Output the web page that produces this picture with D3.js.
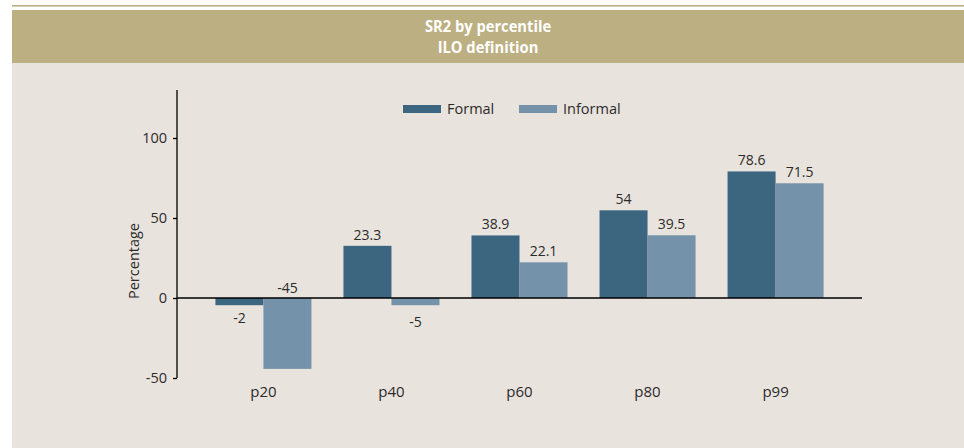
<!DOCTYPE html>
<html>
<head>
<meta charset="utf-8">
<script src="https://cdn.jsdelivr.net/npm/d3@7"></script>
<style>
  html, body { margin: 0; padding: 0; background: #ffffff; }
  svg { display: block; font-family: 'Open Sans', 'Noto Sans', sans-serif; }
</style>
</head>
<body>
<div id="chart"></div>
<script>
const categories = ['p20', 'p40', 'p60', 'p80', 'p99'];
const seriesNames = ['Formal', 'Informal'];
// bar heights as drawn in the picture
const formalValues = [-4.5, 32.6, 39.1, 54.8, 79.1];
const informalValues = [-44.3, -4.5, 22.3, 39.2, 71.7];
// printed labels
const formalLabels = ['-2', '23.3', '38.9', '54', '78.6'];
const informalLabels = ['-45', '-5', '22.1', '39.5', '71.5'];
const yTicks = [-50, 0, 50, 100];
const titleLines = ['SR2 by percentile', 'ILO definition'];

const colors = { Formal: '#3c6680', Informal: '#7492aa' };
const textColor = '#2b2b2b';

const width = 964, height = 448;

const svg = d3.select('#chart')
  .append('svg')
  .attr('width', width)
  .attr('height', height);

// background panels
svg.append('rect')
  .attr('x', 12).attr('y', 63)
  .attr('width', width - 12).attr('height', height - 63)
  .attr('fill', '#e9e3dd');

svg.append('rect')
  .attr('x', 12).attr('y', 10)
  .attr('width', width - 12).attr('height', 53)
  .attr('fill', '#bcaf82');

svg.append('rect')
  .attr('x', 12).attr('y', 5)
  .attr('width', width - 12).attr('height', 1.6)
  .attr('fill', '#bcaf82');

// title (condensed look), one text with two lines
const title = svg.append('g')
  .attr('transform', 'translate(488,0) scale(0.92,1)')
  .append('text')
  .attr('text-anchor', 'middle')
  .attr('fill', '#ffffff')
  .attr('font-weight', 'bold')
  .attr('font-size', 16);
title.selectAll('tspan')
  .data(titleLines)
  .join('tspan')
  .attr('x', 0)
  .attr('y', (d, i) => 32 + i * 21)
  .text(d => d);

// scales
const x = d3.scaleBand()
  .domain(categories)
  .range([177, 862])
  .paddingInner(0.25)
  .paddingOuter(0.3);

const xSub = d3.scaleBand()
  .domain(seriesNames)
  .range([0, x.bandwidth()]);

const y = d3.scaleLinear()
  .domain([-50, 130])
  .range([378, 90]);

const rows = categories.map((c, i) => ({
  cat: c,
  bars: [
    { name: 'Formal', value: formalValues[i], label: formalLabels[i] },
    { name: 'Informal', value: informalValues[i], label: informalLabels[i] }
  ]
}));

const groups = svg.selectAll('g.cat')
  .data(rows)
  .join('g')
  .attr('class', 'cat')
  .attr('transform', d => `translate(${x(d.cat)},0)`);

groups.selectAll('rect')
  .data(d => d.bars)
  .join('rect')
  .attr('x', d => xSub(d.name))
  .attr('y', d => y(Math.max(0, d.value)))
  .attr('width', xSub.bandwidth())
  .attr('height', d => Math.abs(y(d.value) - y(0)))
  .attr('fill', d => colors[d.name]);

groups.selectAll('text.val')
  .data(d => d.bars)
  .join('text')
  .attr('class', 'val')
  .attr('x', d => xSub(d.name) + xSub.bandwidth() / 2)
  .attr('y', d => {
    if (d.value >= 0) return y(d.value) - 6;
    // long negative bar: label sits above the zero line
    if (d.value < -20) return y(0) - 5;
    return y(d.value) + (d.name === 'Formal' ? 18 : 22);
  })
  .attr('text-anchor', 'middle')
  .attr('font-size', 14)
  .attr('fill', textColor)
  .text(d => d.label);

// y axis
const yAxis = svg.append('g')
  .attr('transform', 'translate(177,0)')
  .call(d3.axisLeft(y).tickValues(yTicks).tickSize(4).tickSizeOuter(0).tickFormat(d => String(d)));
yAxis.select('.domain')
  .attr('stroke', '#000')
  .attr('stroke-width', 1.3)
  .attr('d', `M0,${y(-50)}V${y(130)}`);
yAxis.selectAll('.tick line').attr('stroke', '#000').attr('stroke-width', 1.3);
yAxis.selectAll('.tick text')
  .attr('font-size', 14.5)
  .attr('font-family', "'Open Sans', sans-serif")
  .attr('fill', textColor)
  .attr('x', -10);

// zero line
svg.append('line')
  .attr('x1', 177).attr('x2', 862)
  .attr('y1', y(0)).attr('y2', y(0))
  .attr('stroke', '#000')
  .attr('stroke-width', 1.3);

// x labels
svg.selectAll('text.xlab')
  .data(categories)
  .join('text')
  .attr('class', 'xlab')
  .attr('x', d => x(d) + x.bandwidth() / 2)
  .attr('y', 397)
  .attr('text-anchor', 'middle')
  .attr('font-size', 15)
  .attr('fill', textColor)
  .text(d => d);

// y title
svg.append('text')
  .attr('transform', 'translate(139,261) rotate(-90)')
  .attr('text-anchor', 'middle')
  .attr('font-size', 14.5)
  .attr('fill', textColor)
  .text('Percentage');

// legend
const legendItems = [
  { name: 'Formal', x: 403 },
  { name: 'Informal', x: 519 }
];
const legend = svg.selectAll('g.legend')
  .data(legendItems)
  .join('g')
  .attr('class', 'legend')
  .attr('transform', d => `translate(${d.x},105)`);
legend.append('rect')
  .attr('width', 38)
  .attr('height', 8)
  .attr('fill', d => colors[d.name]);
legend.append('text')
  .attr('x', 44)
  .attr('y', 9)
  .attr('font-size', 14.5)
  .attr('fill', textColor)
  .text(d => d.name);
</script>
</body>
</html>
